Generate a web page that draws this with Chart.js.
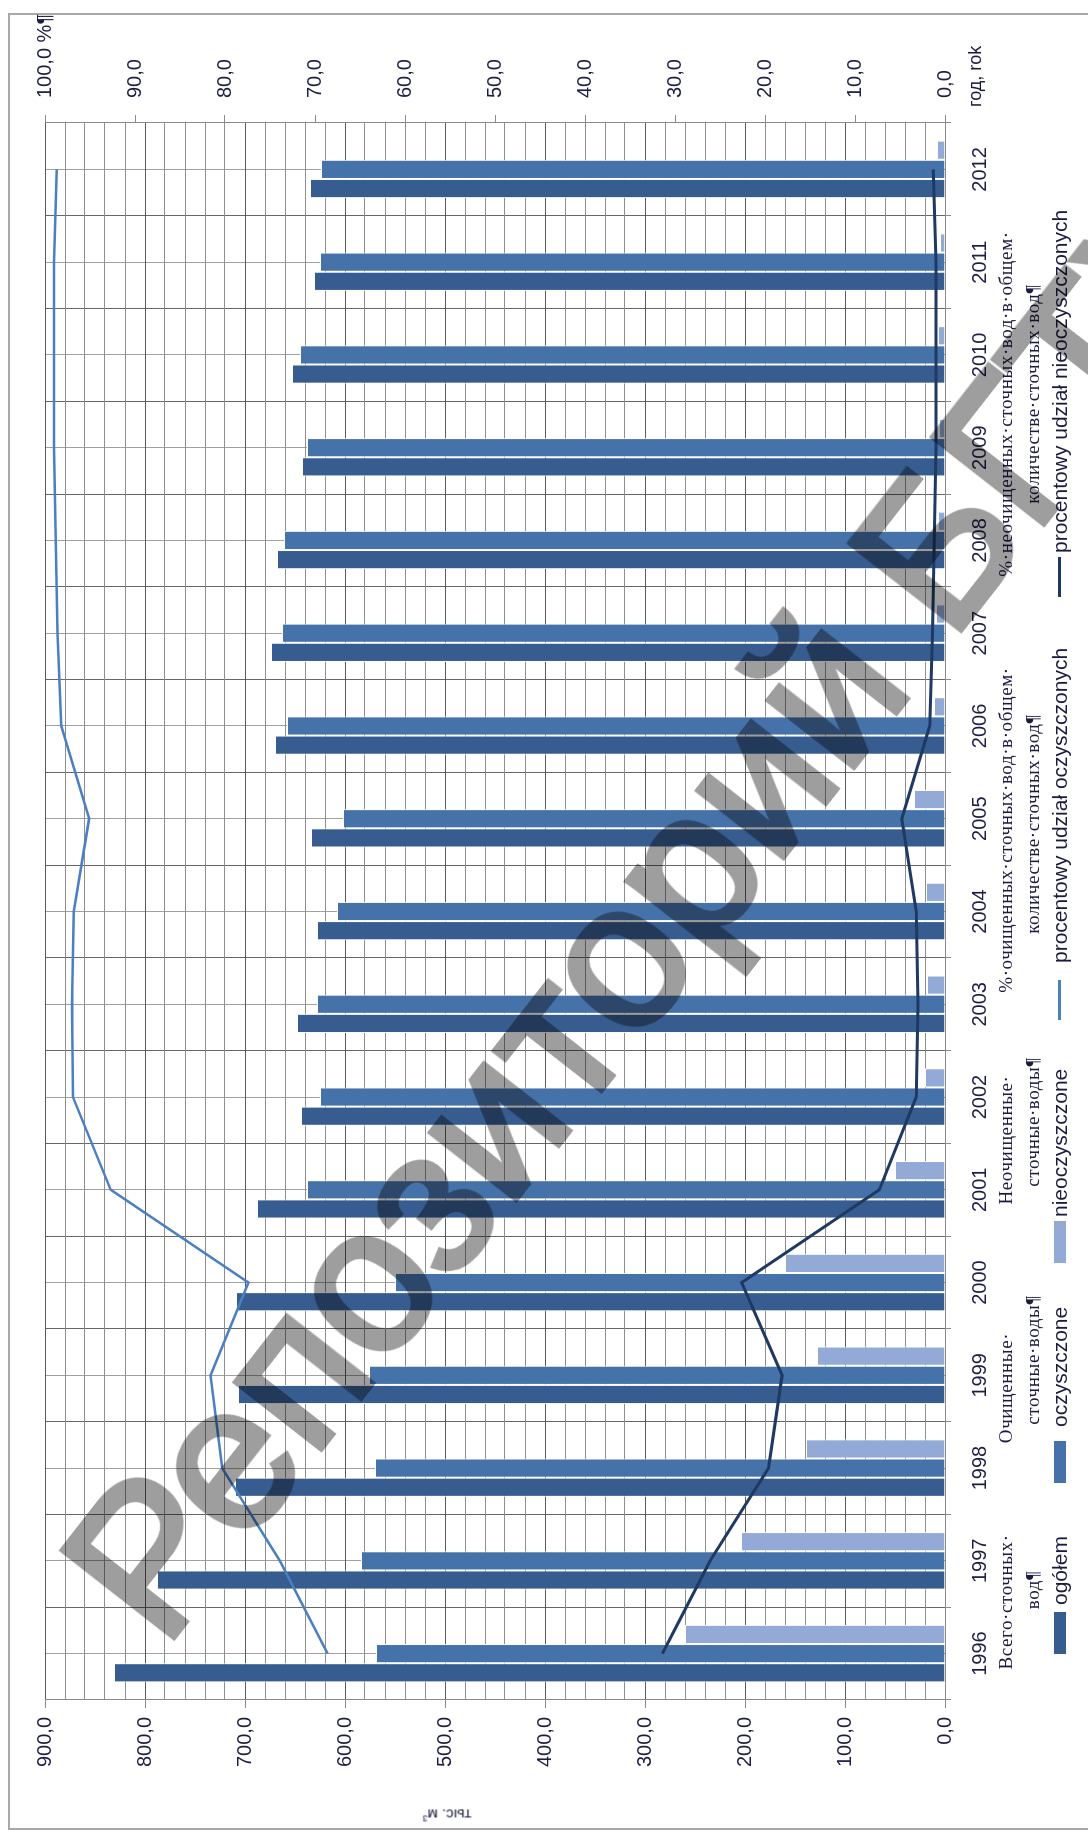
<!DOCTYPE html>
<html>
<head>
<meta charset="utf-8">
<script src="https://cdn.jsdelivr.net/npm/chart.js@4.4.1/dist/chart.umd.min.js"></script>
<style>
    html, body { margin: 0; padding: 0; background: #fff; width: 1088px; height: 1834px; overflow: hidden; }
    #marco { position: absolute; left: 8px; top: 13px; width: 1100px; height: 1817px; border: 2px solid #a8a8a8; box-sizing: border-box; }
    #giro { position: absolute; left: 0; top: 0; width: 1834px; height: 1088px; transform-origin: 0 0; transform: translate(0, 1834px) rotate(-90deg); }
    #grafico { position: absolute; left: 0; top: 0; }
    .ru { position: absolute; font-family: "Liberation Serif", serif; font-size: 19px; line-height: 20px; color: #1b1b40; white-space: nowrap; letter-spacing: 0.6px; transform: translate(-50%, -50%); }
    .pl { position: absolute; font-family: "Liberation Sans", sans-serif; font-size: 21px; line-height: 22px; color: #1b1b40; white-space: nowrap; transform: translateY(-50%); }
    .clave { position: absolute; }
    #rok { position: absolute; left: 1727px; top: 964px; font-family: "Liberation Sans", sans-serif; font-size: 18px; line-height: 22px; color: #1b1b40; white-space: nowrap; }
    #unidad { position: absolute; left: 19px; top: 447px; font-family: "Liberation Sans", sans-serif; font-size: 15px; color: #1b1b40; white-space: nowrap; transform: translate(-50%, -50%) rotate(-90deg); }
    #marca { position: absolute; left: 655px; top: 905px; font-family: "Liberation Sans", sans-serif; font-size: 205px; line-height: 1; color: #9e9e9e; -webkit-text-stroke: 6px #9e9e9e; mix-blend-mode: multiply; white-space: nowrap; transform: translate(-50%, -50%) rotate(-52deg); pointer-events: none; }
</style>
</head>
<body>
<div id="marco"></div>
<div id="giro">
    <canvas id="grafico" width="1834" height="1088"></canvas>
    <div id="rok">год, rok</div>
    <div id="unidad">тыс. м<sup style="font-size:9px">3</sup></div>
    <div id="leyenda"></div>
</div>
<div id="marca">Репозиторий БГТУ</div>

<script>
// datos
const ANIOS = ['1996', '1997', '1998', '1999', '2000', '2001', '2002', '2003', '2004',
    '2005', '2006', '2007', '2008', '2009', '2010', '2011', '2012']
const OGOLEM = [831, 788, 710, 707, 709, 688, 644, 648, 628, 634, 670, 674, 668, 643, 653, 631, 635]
const OCZYSZCZONE = [569, 584, 570, 576, 550, 638, 625, 628, 608, 602, 658, 663, 661, 638, 645, 625, 624]
const NIEOCZYSZCZONE = [260, 204, 139, 128, 160, 50, 20, 18, 19, 31, 11, 9, 7, 6, 7, 5, 8]
const PROC_OCZ = [68.6, 73.9, 80.3, 81.6, 77.4, 92.7, 96.9, 97.0, 96.8, 95.1, 98.2, 98.6, 98.8, 99.0, 99.0, 99.0, 98.7]
const PROC_NIEOCZ = [31.4, 26.1, 19.6, 18.1, 22.6, 7.3, 3.2, 3.0, 3.2, 4.8, 1.7, 1.4, 1.2, 1.0, 1.0, 1.0, 1.3]

// textos de la leyenda
const LEYENDA_PL = ['ogółem', 'oczyszczone', 'nieoczyszczone',
    'procentowy udział oczyszczonych', 'procentowy udział nieoczyszczonych']
const LEYENDA_RU = [
    ['Всего·сточных·', 'вод¶'],
    ['Очищенные·', 'сточные·воды¶'],
    ['Неочищенные·', 'сточные·воды¶'],
    ['%·очищенных·сточных·вод·в·общем·', 'количестве·сточных·вод¶'],
    ['%·неочищенных·сточных·вод·в·общем·', 'количестве·сточных·вод¶']
]

const COLORES = ['#375c90', '#4672aa', '#93aad6', '#4a7fc2', '#1f3a62']

// posiciones de la leyenda (en el sistema sin girar)
const POS_CLAVE = [180, 351, 571, 814, 1237]
const POS_TEXTO = [229, 407, 617, 871, 1281]
const POS_RU1 = [232, 446, 694, 1004, 1430]
const POS_RU2 = [244, 474, 712, 1010, 1440]

const fmt = function (v) {
    return v.toFixed(1).replace('.', ',')
}

let html = ''
for (let i = 0; i < LEYENDA_PL.length; i++) {
    if (i < 3) {
        html += `<div class="clave" style="left:${POS_CLAVE[i]}px;top:1054px;width:42px;height:12px;background:${COLORES[i]}"></div>`
    } else {
        html += `<div class="clave" style="left:${POS_CLAVE[i]}px;top:1058px;width:40px;height:3px;background:${COLORES[i]}"></div>`
    }
    html += `<div class="pl" style="left:${POS_TEXTO[i]}px;top:1060px">${LEYENDA_PL[i]}</div>`
    html += `<div class="ru" style="left:${POS_RU1[i]}px;top:1006px">${LEYENDA_RU[i][0]}</div>`
    html += `<div class="ru" style="left:${POS_RU2[i]}px;top:1033px">${LEYENDA_RU[i][1]}</div>`
}
document.getElementById('leyenda').innerHTML = html

const GRAFICO = document.getElementById('grafico')
const FUENTE = { family: 'Liberation Sans', size: 20 }

new Chart(GRAFICO, {
    type: 'bar',
    data: {
        labels: ANIOS,
        datasets: [
            { label: LEYENDA_PL[0], data: OGOLEM, backgroundColor: COLORES[0], borderColor: '#ffffff', borderWidth: 1, order: 2 },
            { label: LEYENDA_PL[1], data: OCZYSZCZONE, backgroundColor: COLORES[1], borderColor: '#ffffff', borderWidth: 1, order: 2 },
            { label: LEYENDA_PL[2], data: NIEOCZYSZCZONE, backgroundColor: COLORES[2], borderColor: '#ffffff', borderWidth: 1, order: 2 },
            { type: 'line', label: LEYENDA_PL[3], data: PROC_OCZ, yAxisID: 'y1', borderColor: COLORES[3], borderWidth: 2.5, pointRadius: 0, tension: 0, order: 1 },
            { type: 'line', label: LEYENDA_PL[4], data: PROC_NIEOCZ, yAxisID: 'y1', borderColor: COLORES[4], borderWidth: 3, pointRadius: 0, tension: 0, order: 0 }
        ]
    },
    options: {
        responsive: false,
        animation: false,
        devicePixelRatio: 1,
        categoryPercentage: 0.62,
        barPercentage: 1,
        layout: { padding: { top: 45, left: 0, right: 0, bottom: 0 } },
        plugins: { legend: { display: false }, tooltip: { enabled: false } },
        scales: {
            x: {
                position: 'bottom',
                offset: true,
                grid: { offset: true, color: '#666666', tickLength: 6, tickColor: '#8a8a8a' },
                border: { color: '#8a8a8a' },
                ticks: { font: FUENTE, color: '#1d1d45', padding: 17, maxRotation: 0, autoSkip: false },
                afterFit: function (s) { s.height = 143 }
            },
            xc: {
                type: 'category',
                position: 'top',
                offset: true,
                grid: { offset: false, color: '#a0a0a0', drawTicks: false },
                border: { display: false },
                ticks: { display: false },
                afterFit: function (s) { s.height = 0 }
            },
            y: {
                position: 'left',
                min: 0,
                max: 900,
                ticks: {
                    stepSize: 20,
                    autoSkip: false,
                    font: FUENTE,
                    color: '#1d1d45',
                    padding: 9,
                    callback: function (v) { return v % 100 === 0 ? fmt(v) : '' }
                },
                grid: {
                    tickLength: 8,
                    color: function (ctx) { return ctx.tick && ctx.tick.value % 100 === 0 ? '#5a5a5a' : '#8e8e8e' },
                    tickColor: function (ctx) { return ctx.tick && ctx.tick.value % 100 === 0 ? '#8a8a8a' : 'rgba(0,0,0,0)' }
                },
                border: { color: '#8a8a8a' },
                afterFit: function (s) { s.width = 134 }
            },
            y1: {
                position: 'right',
                min: 0,
                max: 100,
                ticks: {
                    stepSize: 10,
                    font: FUENTE,
                    color: '#1d1d45',
                    padding: 17,
                    callback: function (v) { return v === 100 ? '100,0 %¶' : fmt(v) }
                },
                grid: { drawOnChartArea: false, tickLength: 8, tickColor: '#8a8a8a' },
                border: { color: '#8a8a8a' },
                afterFit: function (s) { s.width = 123 }
            }
        }
    }
})
</script>
</body>
</html>
